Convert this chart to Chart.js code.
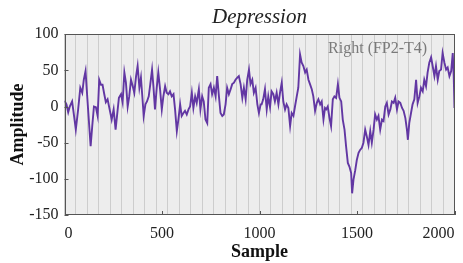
<!DOCTYPE html>
<html>
<head>
<meta charset="utf-8">
<script src="https://cdn.jsdelivr.net/npm/chart.js@4.4.0/dist/chart.umd.min.js"></script>
<style>
html, body { margin: 0; padding: 0; background: #fff; }
</style>
</head>
<body>
<canvas id="myChart" width="463" height="263"></canvas>
<script>
// EEG trace (sample index -> amplitude)
let samples = [0, 10, 19, 27, 39, 50, 58, 70, 81, 91, 99, 108, 113, 122, 134, 142, 151, 161, 170, 178,
    187, 195, 204, 212, 221, 233, 242, 252, 262, 272, 279, 290, 298, 307, 315,
    324, 332, 341, 350, 358, 367, 375, 384, 392, 401, 406, 415, 423, 432, 440, 449, 456, 464, 473, 481,
    490, 499, 507, 516, 524, 533, 541, 550, 559, 567, 576, 584, 593, 601, 610, 618, 627, 636, 644, 653, 661, 670, 678,
    689, 697, 706, 714, 723, 732, 740, 749, 757, 766, 775, 783, 792, 800, 809, 817, 826, 834, 843, 852,
    860, 869, 877, 886, 894, 903, 912, 920, 929, 937, 946, 954, 963, 971, 980, 989, 997, 1006,
    1011, 1019, 1028, 1037, 1045, 1054, 1062, 1071, 1079, 1088, 1097, 1105, 1114, 1122, 1131, 1139, 1148, 1157, 1165, 1174,
    1182, 1191, 1199, 1208, 1216, 1225, 1234, 1242, 1251, 1259, 1268, 1276, 1285, 1294, 1302, 1311, 1319, 1328, 1336,
    1342, 1350, 1359, 1367, 1376, 1384, 1393, 1402, 1410, 1419, 1427, 1436, 1444, 1453, 1461, 1470, 1475, 1482, 1491, 1499,
    1508, 1516, 1525, 1533, 1542, 1550, 1559, 1568, 1576, 1585, 1593, 1602, 1610, 1619, 1628, 1636, 1645, 1653, 1662,
    1671, 1679, 1688, 1696, 1705, 1713, 1722, 1731, 1739, 1748, 1756, 1761, 1768, 1777, 1785, 1794, 1803, 1811, 1820, 1828,
    1837, 1845, 1854, 1862, 1871, 1880, 1888, 1897, 1905, 1914, 1922, 1931, 1939, 1948, 1957, 1965, 1974, 1983, 1991, 1996, 2000];

let amplitude = [8, 3, -8, 0, 7, -15, -32, -4, 26, 19, 37, 49, 28, -8, -55, -28, 0, -1, -13, 37,
    30, 30, 17, 6, 10, -6, -18, -4, -32, -6, 12, 17, 6, 47, 33,
    0, 14, 37, 28, 19, 42, 56, 26, 40, 7, -13, 3, 7, 14, 31, 51, 28, -4, 26, 47,
    24, -4, 14, 28, 19, 17, 21, 14, 17, -4, -34, -18, 3, -13, -9, -6, -11, -4, 0, 19, -2, 14, 5,
    24, -4, 14, 7, -18, -23, 26, 31, 17, 26, 14, 42, 14, -9, -13, -11, 3, 26, 17, 24,
    31, 33, 37, 40, 42, 31, 12, 26, 10, 37, 51, 31, 37, 19, 26, 3, -9, 3,
    3, 10, 24, -4, 14, -1, 21, 17, 7, 19, 3, 19, 33, 7, -4, 3, -2, -27, -9, -13,
    0, 14, 26, 72, 61, 56, 47, 51, 37, 31, 24, 14, -6, 5, 10, 3, 7, -18, -2,
    -4, 0, -16, -27, 10, 14, 12, 31, 12, 7, -18, -32, -55, -78, -83, -92, -120, -101, -88, -74,
    -64, -60, -57, -50, -32, -41, -53, -34, -50, -32, -11, -18, -13, -32, -18, -20, 0, 5, -11,
    -4, 7, 5, 12, -4, 7, 5, -2, -6, -16, -32, -46, -23, -9, 3, 10, 37, 5, 14, 26,
    21, 37, 28, 47, 61, 68, 56, 42, 56, 37, 49, 51, 74, 61, 51, 54, 42, 49, 74, 42, -2];

let xTicks = [0, 500, 1000, 1500, 2000];
let yTicks = [-150, -100, -50, 0, 50, 100];
let channelLabel = 'Right (FP2-T4)';

const SERIF = "'Liberation Serif', 'Times New Roman', serif";
const STRIPES = 34;

let points = samples.map((s, i) => ({ x: s, y: amplitude[i] }));

// grey plot background, frame and the channel label
const plotFrame = {
    id: 'plotFrame',
    beforeDraw(chart) {
        const { ctx, chartArea: a } = chart;
        ctx.save();
        ctx.fillStyle = '#ededed';
        ctx.fillRect(a.left, a.top, a.width, a.height);
        ctx.restore();
    },
    afterDraw(chart) {
        const { ctx, chartArea: a, scales } = chart;
        ctx.save();
        ctx.strokeStyle = '#555';
        ctx.lineWidth = 1;
        ctx.strokeRect(Math.round(a.left) + 0.5, Math.round(a.top) + 0.5,
            Math.round(a.width) - 1, Math.round(a.height) - 1);
        // small inward tick marks like the original
        ctx.beginPath();
        xTicks.forEach(v => {
            let px = Math.round(scales.x.getPixelForValue(v)) + 0.5;
            ctx.moveTo(px, a.bottom);
            ctx.lineTo(px, a.bottom - 4);
        });
        yTicks.forEach(v => {
            let py = Math.round(scales.y.getPixelForValue(v)) + 0.5;
            ctx.moveTo(a.left, py);
            ctx.lineTo(a.left + 4, py);
        });
        ctx.stroke();
        ctx.fillStyle = '#7a7a7a';
        ctx.font = '16px ' + SERIF;
        ctx.textAlign = 'right';
        ctx.textBaseline = 'middle';
        ctx.fillText(channelLabel, scales.x.getPixelForValue(1860), scales.y.getPixelForValue(80));
        ctx.restore();
    }
};

let chartElement = document.getElementById('myChart').getContext('2d');

let myChart = new Chart(chartElement, {
    type: 'line',
    data: {
        datasets: [{
            data: points,
            borderColor: '#6237a3',
            borderWidth: 1.9,
            pointRadius: 0,
            tension: 0,
            fill: false
        }]
    },
    options: {
        responsive: false,
        animation: false,
        layout: { padding: { left: 8, right: 8.5, top: 0, bottom: 0 } },
        plugins: {
            legend: { display: false },
            tooltip: { enabled: false },
            title: {
                display: true,
                text: 'Depression',
                fullSize: false,
                color: '#222',
                font: { family: SERIF, size: 21, style: 'italic', weight: 'normal' },
                padding: { top: 5, bottom: 4 }
            }
        },
        scales: {
            x: {
                type: 'linear',
                position: 'bottom',
                min: 0,
                max: 2000,
                afterBuildTicks: s => { s.ticks = xTicks.map(v => ({ value: v })); },
                ticks: { align: 'inner', padding: 9, color: '#222', maxRotation: 0, autoSkip: false,
                    font: { family: SERIF, size: 16 }, callback: v => String(v) },
                grid: { display: false, drawTicks: false, tickLength: 0 },
                border: { display: false },
                title: { display: true, text: 'Sample', color: '#111', padding: 0,
                    font: { family: SERIF, size: 18, weight: 'bold' } },
                afterFit: s => { s.height = 48; s.paddingLeft = 0; s.paddingRight = 0; }
            },
            xs: {
                type: 'linear',
                position: 'bottom',
                min: 0,
                max: 2000,
                afterBuildTicks: s => {
                    let t = [];
                    for (let k = 0; k <= STRIPES; k++) t.push({ value: k * 2000 / STRIPES });
                    s.ticks = t;
                },
                ticks: { display: false },
                grid: { color: '#cdcdcd', lineWidth: 1, drawTicks: false },
                border: { display: false },
                afterFit: s => { s.height = 0; s.paddingLeft = 0; s.paddingRight = 0; }
            },
            y: {
                min: -150,
                max: 100,
                afterBuildTicks: s => { s.ticks = yTicks.map(v => ({ value: v })); },
                ticks: { padding: 6, color: '#222', font: { family: SERIF, size: 16 }, callback: v => String(v) },
                grid: { display: false, drawTicks: false, tickLength: 0 },
                border: { display: false },
                title: { display: true, text: 'Amplitude', color: '#111', padding: 0,
                    font: { family: SERIF, size: 18, weight: 'bold' } },
                afterFit: s => { s.width = 56.5; }
            }
        }
    },
    plugins: [plotFrame]
});
</script>
</body>
</html>
